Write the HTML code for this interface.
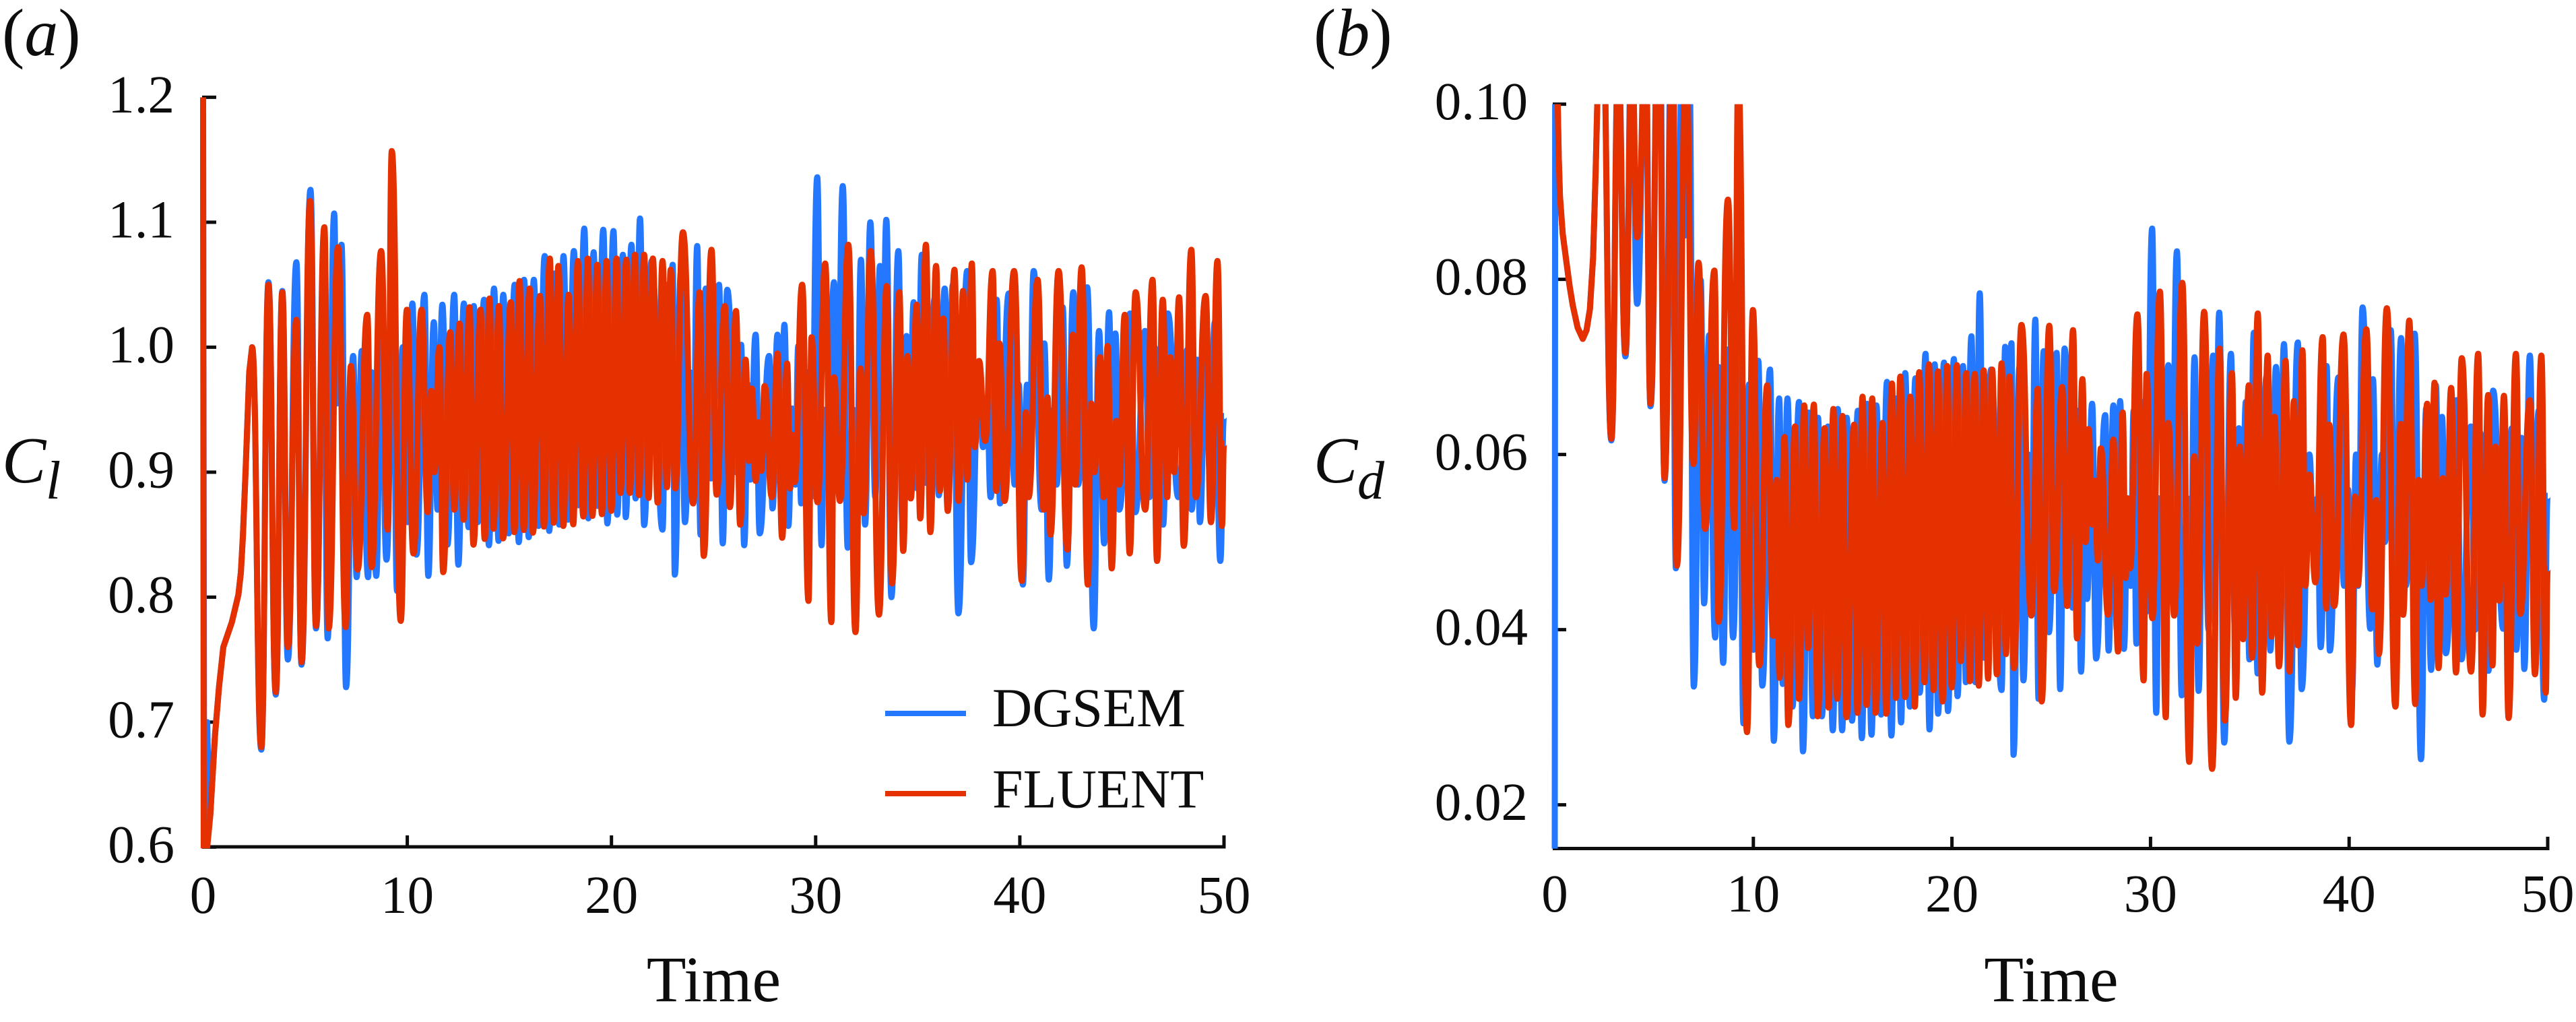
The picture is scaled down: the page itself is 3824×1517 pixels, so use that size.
<!DOCTYPE html>
<html lang="en">
<head>
<meta charset="utf-8">
<title>Cl and Cd time histories</title>
<style>
html,body{margin:0;padding:0;background:#fff;}
svg{display:block;}
text{font-family:"Liberation Serif",serif;fill:#0d0d0d;}
</style>
</head>
<body>
<svg id="chart" xmlns="http://www.w3.org/2000/svg" width="3824" height="1517" viewBox="0 0 3824 1517">
<rect width="3824" height="1517" fill="#ffffff"/>
<defs>
<clipPath id="clip-a"><rect x="290" y="144.4" width="1540" height="1115"/></clipPath>
<clipPath id="clip-b"><rect x="2300" y="154.6" width="1490" height="1107"/></clipPath>
</defs>
<text x="3" y="82" font-size="100">(<tspan font-style="italic">a</tspan>)</text>
<text x="1950" y="82" font-size="100">(<tspan font-style="italic">b</tspan>)</text>
<text x="3" y="716" font-size="98" font-style="italic">C</text>
<text x="68" y="740" font-size="80" font-style="italic">l</text>
<text x="1950" y="716" font-size="98" font-style="italic">C</text>
<text x="2015" y="740" font-size="80" font-style="italic">d</text>
<text x="1059.5" y="1486" font-size="96" text-anchor="middle">Time</text>
<text x="3045" y="1486" font-size="96" text-anchor="middle">Time</text>
<g id="layer-a"></g>
<g id="layer-b"></g>
<g>
<rect x="1314" y="1055" width="120" height="8" fill="#2478ff"/>
<text x="1473" y="1078" font-size="82">DGSEM</text>
<rect x="1314" y="1174" width="120" height="8" fill="#e53000"/>
<text x="1473" y="1198.5" font-size="82">FLUENT</text>
</g>
</svg>
<script>
var timeTicks = [0, 10, 20, 30, 40, 50];
var clTicks = [1.2, 1.1, 1.0, 0.9, 0.8, 0.7, 0.6];
var clTickLabels = ["1.2", "1.1", "1.0", "0.9", "0.8", "0.7", "0.6"];
var cdTicks = [0.10, 0.08, 0.06, 0.04, 0.02];
var cdTickLabels = ["0.10", "0.08", "0.06", "0.04", "0.02"];

var dgsemIntroTimeCl = [0, 0.05, 0.12, 0.2, 0.3, 0.35, 0.58, 0.78, 0.99, 1.41, 1.73, 1.85, 1.95, 2.08, 2.26, 2.4];
var dgsemIntroCl = [1.2, 0.6, 0.6, 0.7, 0.62, 0.625, 0.689, 0.728, 0.76, 0.78, 0.802, 0.82, 0.849, 0.9, 0.98, 1.0];
var fluentIntroTimeCl = [0, 0.03, 0.12, 0.2, 0.35, 0.58, 0.78, 0.99, 1.41, 1.73, 1.85, 1.95, 2.08, 2.26, 2.4];
var fluentIntroCl = [1.2, 0.6, 0.6, 0.6, 0.625, 0.689, 0.728, 0.76, 0.78, 0.802, 0.82, 0.849, 0.9, 0.98, 1.0];
var dgsemIntroTimeCd = [0, 0.02, 0.15, 0.2, 0.26, 0.4, 0.58, 0.75, 0.91, 1.15, 1.41, 1.6, 1.77, 1.93, 2.06, 2.14, 2.4];
var dgsemIntroCd = [0.015, 0.1, 0.1, 0.094, 0.0895, 0.0852, 0.0821, 0.0792, 0.077, 0.0745, 0.0732, 0.0742, 0.0766, 0.0825, 0.0923, 0.1, 0.11];
var fluentIntroTimeCd = [0.1, 0.15, 0.2, 0.26, 0.4, 0.58, 0.75, 0.91, 1.15, 1.41, 1.6, 1.77, 1.93, 2.06, 2.14, 2.4];
var fluentIntroCd = [0.1, 0.1, 0.094, 0.0895, 0.0852, 0.0821, 0.0792, 0.077, 0.0745, 0.0732, 0.0742, 0.0766, 0.0825, 0.0923, 0.1, 0.11];

var fluentTime = [
2.85,3.2,3.56,3.88,4.15,4.57,4.82,5.24,5.53,5.94,
6.15,6.61,6.98,7.24,7.57,8.04,8.25,8.72,9.04,9.24,
9.68,9.98,10.3,10.7,11,11.17,11.32,11.57,11.76,12.1,
12.3,12.56,12.75,13.05,13.24,13.59,13.79,14.03,14.22,14.49,
14.69,15.07,15.24,15.5,15.7,15.99,16.15,16.5,16.69,16.98,
17.17,17.4,17.64,17.9,18.13,18.35,18.62,18.84,19.07,19.3,
19.53,19.76,19.99,20.25,20.44,20.73,20.9,21.15,21.35,21.6,
21.82,22.03,22.26,22.5,22.72,22.9,23.12,23.5,24,24.32,
24.52,24.9,25.15,25.55,25.8,26.1,26.3,26.57,26.73,26.88,
27.06,27.2,27.34,27.5,27.86,28.13,28.36,28.6,28.75,28.85,
28.97,29.34,29.65,29.8,
30.09,30.47,30.77,30.9,31.19,31.6,31.95,32.2,32.35,32.7,
33.1,33.48,33.74,34.1,34.29,34.5,34.66,34.95,35.12,35.4,
35.62,35.9,36.09,36.25,36.47,36.8,37,37.22,37.42,37.65,
37.8,38,38.3,38.67,38.85,39,39.25,39.72,40.1,40.3,40.43,40.87,
41.17,41.36,41.5,41.9,42.33,42.6,42.72,43.03,43.33,43.5,
43.65,43.93,44.1,44.3,44.5,44.72,44.87,45.14,45.38,45.67,
46.14,46.5,46.72,47,47.22,47.37,47.56,47.8,48.03,48.4,
48.62,49.1,49.36,49.68,49.9,50];
var fluentCl = [
.68,1.05,.724,1.044,.76,1.022,.748,1.117,.777,1.096,
.775,1.08,.776,.985,.822,1.026,.824,1.077,.854,1.157,
.781,1.03,.835,1.03,.868,.965,.9,1.0,.82,1.012,
.87,1.019,.862,1.032,.842,1.03,.8466,1.039,.8547,1.033,
.847,1.036,.852,1.053,.8537,1.047,.8516,1.041,.8565,1.071,
.8595,1.065,.857,1.042,.8583,1.069,.8646,1.071,.865,1.066,
.8664,1.069,.869,1.071,.8834,1.07,.8834,1.074,.8816,1.074,
.8794,1.071,.8757,1.069,.888,1.062,.887,1.092,.875,1.044,
.833,1.078,.882,1.033,.872,1.029,.858,.99,.909,.967,
.893,.94,.901,.969,.88,.995,.8475,.987,.887,.93,
.892,1.05,.797,1.008,
.876,1.067,.78,.976,.877,1.082,.772,.983,.867,1.077,
.786,1.049,.811,1.044,.837,.993,.879,1.034,.863,1.082,
.852,1.065,.885,1.023,.869,1.062,.877,1.045,.894,1.067,
.92,.989,.925,1.061,.885,1.003,.877,1.061,.813,.948,.88,1.054,
.87,.96,.85,1.061,.838,1.01,.89,1.064,.81,.955,
.9,.992,.88,1.001,.823,.941,.89,1.026,.835,1.044,
.87,1.054,.829,1.038,.88,.992,.9,1.04,.841,1.078,
.88,1.041,.86,1.069,.857,.923];
var fluentCd = [
.0618,.104,.0716,.106,.0848,.104,.0658,.115,.0573,.11,
.0473,.105,.0589,.0819,.0515,.081,.0409,.0891,.0516,.103,
.0283,.0765,.0359,.0679,.0393,.0571,.0345,.062,.0291,.0632,
.0321,.0656,.0379,.0657,.0301,.063,.0311,.0652,.0321,.0644,
.03,.0634,.0305,.0666,.0314,.0664,.0305,.0636,.0304,.0681,
.0322,.0689,.0323,.0666,.0312,.0694,.034,.0703,.0331,.0695,
.0318,.0701,.0334,.0702,.0364,.0693,.0341,.0692,.0336,.0696,
.0344,.0697,.0349,.0704,.0372,.0689,.0356,.0748,.0416,.0675,
.0318,.0747,.0444,.0677,.0427,.0742,.039,.0686,.05,.0629,
.052,.057,.0479,.0607,.0417,.0617,.0375,.0648,.0459,.055,
.047,.076,.0342,.0692,
.0413,.0786,.03,.0636,.0416,.0796,.0249,.0598,.0384,.0763,
.0241,.0721,.0296,.0693,.0322,.0609,.0389,.0679,.0368,.0761,
.0328,.0713,.0392,.0643,.0358,.0707,.0352,.0661,.0382,.0719,
.045,.0577,.0454,.0734,.0424,.0634,.0427,.0737,.0291,.0552,.0451,.0743,
.0423,.0548,.0372,.0767,.0312,.0635,.0417,.0753,.0315,.0571,
.045,.0658,.0434,.0682,.0356,.0573,.044,.0676,.0351,.071,
.0352,.0715,.0303,.0668,.0359,.0609,.0433,.0667,.0299,.0715,
.0418,.0662,.0349,.0713,.0328,.047];

var dgsemTime = [
2.85,3.2,3.56,3.88,4.15,4.57,4.82,5.26,5.53,5.9,
6.1,6.42,6.55,6.78,7,7.35,7.52,7.77,8.08,8.25,
8.48,8.72,8.98,9.3,9.5,9.78,10,10.25,10.45,10.84,
11.03,11.3,11.48,11.72,11.97,12.3,12.5,12.77,13,13.26,
13.45,13.76,14,14.25,14.47,14.7,14.97,15.26,15.46,15.72,
15.95,16.2,16.43,16.73,16.95,17.2,17.44,17.65,17.88,18.16,
18.38,18.67,18.87,19.13,19.3,19.6,19.8,20.1,20.28,20.56,
20.7,20.98,21.18,21.4,21.6,21.97,22.5,22.68,22.8,23,
23.1,23.4,23.6,23.85,24,24.2,24.36,24.62,24.88,25.27,25.45,25.67,
26.08,26.35,26.5,26.7,26.8,27.06,27.26,27.72,27.89,28.13,
28.3,28.47,28.66,28.85,29,29.15,29.29,29.55,29.78,30.08,
30.29,30.42,30.6,30.9,31.05,31.33,31.57,31.85,32,32.22,
32.42,32.68,32.92,33.15,33.28,33.46,33.71,34.05,34.25,34.45,
34.58,34.8,34.98,35.2,35.39,35.85,36.03,36.32,36.5,36.72,
36.99,37.42,37.61,38,38.2,38.4,38.57,38.87,39.03,39.46,
39.75,39.95,40.15,40.35,40.45,40.68,41.07,41.2,41.42,41.65,41.8,42.1,
42.3,42.62,42.85,43.3,43.62,43.88,44.13,44.37,44.52,44.68,
44.87,45.4,45.66,46.13,46.35,46.6,47.02,47.25,47.76,48.2,
48.42,48.68,48.82,49.1,49.3,49.55,49.82,50];
var dgsemCl = [
.678,1.052,.722,1.045,.75,1.068,.746,1.126,.775,1.05,
.767,1.107,.955,1.082,.728,.993,.816,.997,.816,.98,
.817,1.02,.83,1.037,.805,1.0,.86,1.035,.834,1.042,
.817,1.02,.87,1.034,.842,1.042,.826,1.035,.856,1.033,
.86,1.038,.8415,1.047,.845,1.042,.851,1.05,.844,1.054,
.848,1.054,.857,1.073,.853,1.059,.858,1.073,.862,1.077,
.8735,1.095,.863,1.076,.873,1.094,.859,1.093,.866,1.074,
.864,1.082,.879,1.103,.8577,1.069,.854,1.05,.95,1.066,
.818,1.06,.86,.98,.9,1.081,.85,1.047,.895,1.05,.843,1.046,
.9,1.002,.8415,.97,.894,1.01,.851,.993,.871,1.01,
.877,1.018,.857,.951,.89,1.001,.875,.98,.88,1.136,
.8415,.95,.9,1.052,.9,1.129,.8395,.95,.87,1.07,
.858,1.1,.88,1.065,.95,1.102,.8,1.077,.86,1.009,
.88,1.036,.887,1.074,.8915,1.04,.8815,1.047,.93,1.05,
.787,1.061,.828,.98,.92,.95,.88,1.038,.875,1.043,
.89,.97,.81,.97,.9,1.061,.87,1.003,.814,.95,.89,1.032,
.825,1.044,.89,1.048,.775,1.013,.843,1.028,.92,1.011,
.87,1.027,.868,1.013,.88,1.0,.858,1.027,.88,.998,
.87,.99,.86,1.01,.9,1.02,.829,.945];
var dgsemCd = [
.0616,.105,.0712,.108,.0772,.109,.0655,.118,.057,.11,
.047,.106,.085,.104,.0335,.0799,.043,.0736,.0391,.07,
.0362,.072,.0391,.0736,.0293,.068,.0377,.0707,.0336,.0697,
.0273,.0664,.0338,.0664,.0312,.066,.0261,.0648,.0301,.0642,
.0301,.0632,.0285,.0652,.0285,.0642,.0296,.065,.0276,.0658,
.028,.0656,.0303,.0683,.0279,.0664,.0294,.0693,.0312,.0687,
.0328,.0715,.0286,.0703,.0304,.0705,.0307,.0709,.0324,.0701,
.034,.0735,.034,.0784,.0368,.0697,.0331,.0723,.058,.0727,
.0257,.07,.0342,.06,.045,.0754,.0321,.0718,.0397,.0716,.0332,.0721,
.0425,.065,.0352,.06,.0435,.0658,.0367,.0645,.0376,.0656,
.04,.0661,.0378,.055,.045,.065,.0384,.066,.042,.0858,
.0305,.055,.045,.0702,.048,.0832,.0325,.055,.04,.0711,
.033,.074,.04,.0713,.055,.0762,.0271,.0715,.04,.063,
.042,.066,.0366,.0739,.035,.069,.0376,.07,.05,.0726,
.0272,.0728,.0332,.06,.05,.055,.038,.0701,.0376,.0688,
.045,.056,.033,.06,.045,.0768,.0401,.0686,.036,.06,.05,.0742,
.04,.0733,.045,.0738,.0252,.0653,.0354,.0679,.05,.0643,
.0373,.0662,.0366,.0632,.04,.0625,.0353,.0673,.0401,.063,
.0377,.0619,.0355,.0713,.05,.065,.032,.0553];

var NS = "http://www.w3.org/2000/svg";
var BLACK = "#0d0d0d", BLUE = "#2478ff", RED = "#e53000";

function xA(t) { return 301.5 + t * 30.31; }
function yA(v) { return 144.4 + (1.2 - v) * 1855; }
function xB(t) { return 2308 + t * 29.48; }
function yB(v) { return 154.6 + (0.1 - v) * 13000; }

function seriesPath(xf, yf, introT, introV, times, vals) {
  var d = "";
  var i;
  for (i = 0; i < introT.length; i++) {
    d += (i === 0 ? "M" : "L") + xf(introT[i]).toFixed(1) + " " + yf(introV[i]).toFixed(1);
  }
  var px = xf(introT[introT.length - 1]);
  var py = yf(introV[introV.length - 1]);
  for (i = 0; i < times.length; i++) {
    var nx = xf(times[i]);
    var ny = yf(vals[i]);
    var mid = (nx - px) / 2;
    d += "C" + (px + mid).toFixed(1) + " " + py.toFixed(1) + " " + (nx - mid).toFixed(1) + " " + ny.toFixed(1) + " " + nx.toFixed(1) + " " + ny.toFixed(1);
    px = nx;
    py = ny;
  }
  return d;
}

function addLine(layer, x1, y1, x2, y2, w) {
  var el = document.createElementNS(NS, "line");
  el.setAttribute("x1", x1);
  el.setAttribute("y1", y1);
  el.setAttribute("x2", x2);
  el.setAttribute("y2", y2);
  el.setAttribute("stroke", BLACK);
  el.setAttribute("stroke-width", w);
  layer.appendChild(el);
  return el;
}

function addText(layer, x, y, str, anchor) {
  var el = document.createElementNS(NS, "text");
  el.setAttribute("x", x);
  el.setAttribute("y", y);
  el.setAttribute("font-size", "79");
  el.setAttribute("text-anchor", anchor);
  el.textContent = str;
  layer.appendChild(el);
  return el;
}

function addSeries(layer, d, color, clip) {
  var el = document.createElementNS(NS, "path");
  el.setAttribute("d", d);
  el.setAttribute("fill", "none");
  el.setAttribute("stroke", color);
  el.setAttribute("stroke-width", "9");
  el.setAttribute("stroke-linejoin", "round");
  el.setAttribute("clip-path", "url(#" + clip + ")");
  layer.appendChild(el);
  return el;
}

var layerA = document.getElementById("layer-a");
var layerB = document.getElementById("layer-b");
var i, el;

var axisA = addLine(layerA, 300, 1257, 1819.5, 1257, 5);


var spineA = addLine(layerA, 303, 144.4, 303, 1257, 5);


var axisB = addLine(layerB, 2305, 1259.5, 3784.5, 1259.5, 5);


var spineB = addLine(layerB, 2308, 154.6, 2308, 1259.5, 5);



for (i = 0; i < timeTicks.length; i++) {
  if (timeTicks[i] > 0) {
    el = addLine(layerA, xA(timeTicks[i]), 1240, xA(timeTicks[i]), 1257, 5);
    
    
    el = addLine(layerB, xB(timeTicks[i]), 1242, xB(timeTicks[i]), 1259.5, 5);
    
    
  }
  el = addText(layerA, xA(timeTicks[i]), 1355, String(timeTicks[i]), "middle");
  
  
  el = addText(layerB, xB(timeTicks[i]), 1353, String(timeTicks[i]), "middle");
  
  
}
for (i = 0; i < clTicks.length; i++) {
  el = addLine(layerA, 300, yA(clTicks[i]), 321, yA(clTicks[i]), 5);
  
  
  el = addText(layerA, 259, yA(clTicks[i]) + 22.5, clTickLabels[i], "end");
  
  
}
for (i = 0; i < cdTicks.length; i++) {
  el = addLine(layerB, 2305, yB(cdTicks[i]), 2325, yB(cdTicks[i]), 5);
  
  
  el = addText(layerB, 2268, yB(cdTicks[i]) + 22.5, cdTickLabels[i], "end");
  
  
}

el = addSeries(layerA, seriesPath(xA, yA, dgsemIntroTimeCl, dgsemIntroCl, dgsemTime, dgsemCl), BLUE, "clip-a");


el = addSeries(layerA, seriesPath(xA, yA, fluentIntroTimeCl, fluentIntroCl, fluentTime, fluentCl), RED, "clip-a");


el = addSeries(layerB, seriesPath(xB, yB, dgsemIntroTimeCd, dgsemIntroCd, dgsemTime, dgsemCd), BLUE, "clip-b");


el = addSeries(layerB, seriesPath(xB, yB, fluentIntroTimeCd, fluentIntroCd, fluentTime, fluentCd), RED, "clip-b");


</script>
</body>
</html>
